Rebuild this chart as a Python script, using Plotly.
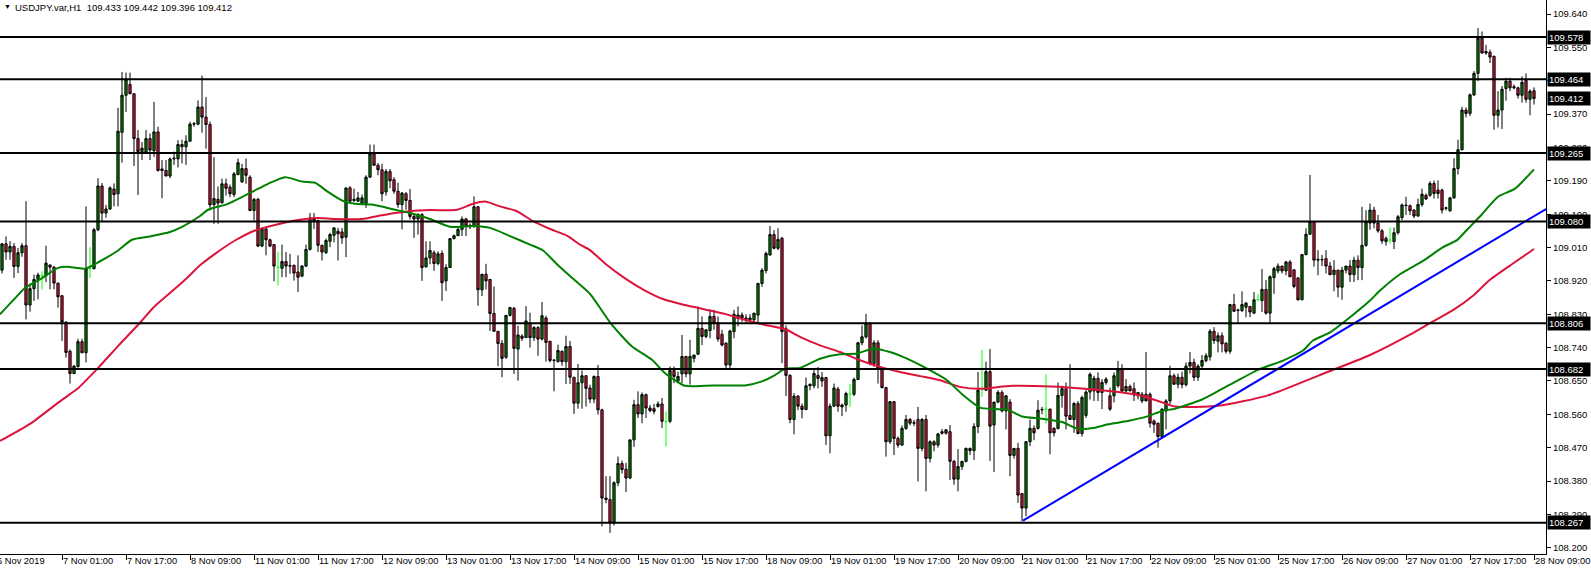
import plotly.graph_objects as go

FONT = "Liberation Sans"
FIRST_BAR = -15  # bar index of the first visible H1 bar (bar 0 = 7 Nov 01:00)

# ---- H1 bars: (open, high, low, close) ----
bars_1 = [  # bars -15 .. 34
    (108.949,109.022,108.940,109.020),(109.020,109.040,108.977,108.998),(108.998,109.027,108.977,109.013),(109.013,109.022,108.928,108.959),(108.959,109.009,108.941,108.996),
    (108.996,109.022,108.985,109.015),(109.015,109.135,108.816,108.855),(108.855,108.913,108.837,108.899),(108.899,108.937,108.866,108.924),(108.924,108.942,108.870,108.936),
    (108.934,108.946,108.897,108.934),(108.934,109.015,108.917,108.968),(108.963,108.964,108.897,108.957),(108.957,108.960,108.897,108.914),(108.914,108.915,108.848,108.877),
    (108.880,108.882,108.758,108.809),(108.809,108.810,108.713,108.727),(108.730,108.735,108.643,108.670),(108.670,108.693,108.668,108.690),(108.689,108.764,108.686,108.756),
    (108.756,108.764,108.726,108.726),(108.726,109.121,108.700,108.953),(108.953,109.011,108.928,108.953),(108.953,109.063,108.951,109.058),(109.058,109.197,109.054,109.176),
    (109.176,109.184,109.080,109.103),(109.103,109.125,109.090,109.114),(109.114,109.175,109.112,109.171),(109.168,109.183,109.121,109.153),(109.155,109.387,109.121,109.324),
    (109.321,109.484,109.239,109.421),(109.421,109.482,109.376,109.464),(109.450,109.482,109.425,109.425),(109.425,109.425,109.230,109.304),(109.304,109.327,109.152,109.269),
    (109.269,109.295,109.246,109.278),(109.268,109.327,109.264,109.304),(109.304,109.318,109.246,109.273),(109.271,109.403,109.255,109.322),(109.322,109.336,109.215,109.218),
    (109.222,109.246,109.143,109.218),(109.218,109.246,109.203,109.203),(109.203,109.253,109.197,109.249),(109.249,109.269,109.233,109.251),(109.249,109.300,109.226,109.288),
    (109.288,109.301,109.237,109.282),(109.282,109.313,109.233,109.297),(109.297,109.349,109.295,109.343),(109.343,109.349,109.336,109.344),(109.343,109.407,109.340,109.389),
]
bars_2 = [  # bars 35 .. 83
    (109.389,109.474,109.320,109.362),(109.362,109.416,109.277,109.342),(109.342,109.350,109.110,109.125),(109.126,109.254,109.074,109.142),(109.140,109.175,109.074,109.130),
    (109.131,109.196,109.128,109.182),(109.182,109.196,109.150,109.170),(109.173,109.180,109.146,109.155),(109.153,109.214,109.146,109.209),(109.207,109.250,109.205,109.239),
    (109.187,109.236,109.185,109.223),(109.223,109.250,109.182,109.205),(109.200,109.205,109.108,109.110),(109.110,109.144,109.083,109.140),(109.140,109.144,109.011,109.014),
    (109.014,109.065,109.011,109.060),(109.060,109.065,108.989,109.031),(109.031,109.034,109.011,109.014),(109.018,109.018,108.919,108.960),(108.957,108.999,108.908,108.957),
    (108.954,109.018,108.930,108.972),(108.972,108.998,108.930,108.960),(108.960,108.993,108.939,108.961),(108.962,108.964,108.921,108.941),(108.944,108.989,108.890,108.930),
    (108.933,108.963,108.930,108.960),(108.960,109.018,108.957,109.005),(109.005,109.103,109.002,109.090),(109.090,109.103,109.060,109.083),(109.083,109.085,108.998,109.016),
    (109.016,109.018,108.975,108.998),(108.996,109.034,108.993,109.029),(109.027,109.050,109.011,109.045),(109.043,109.065,109.024,109.063),(109.054,109.063,108.975,109.047),
    (109.052,109.063,109.020,109.036),(109.038,109.171,108.984,109.171),(109.171,109.176,109.130,109.135),(109.137,109.169,109.133,109.140),(109.135,109.160,109.133,109.144),
    (109.130,109.153,109.126,109.144),(109.128,109.205,109.117,109.200),(109.200,109.288,109.198,109.263),(109.263,109.288,109.232,109.232),(109.232,109.238,109.205,109.220),
    (109.220,109.236,109.135,109.155),(109.160,109.222,109.150,109.215),(109.215,109.222,109.170,109.190),(109.193,109.200,109.155,109.162),
]
bars_3 = [  # bars 84 .. 131
    (109.162,109.185,109.117,109.126),(109.126,109.160,109.059,109.157),(109.155,109.160,109.112,109.137),(109.137,109.168,109.086,109.094),(109.094,109.103,109.036,109.087),
    (109.087,109.103,109.045,109.099),(109.099,109.103,108.920,108.956),(108.958,109.027,108.956,108.982),(108.982,109.027,108.965,109.002),(108.996,109.002,108.947,108.967),
    (108.967,109.000,108.962,108.993),(108.994,109.002,108.866,108.915),(108.920,108.965,108.893,108.956),(108.956,109.036,108.956,109.034),(109.034,109.045,109.032,109.042),
    (109.042,109.063,109.041,109.059),(109.059,109.094,109.041,109.087),(109.087,109.090,109.041,109.068),(109.066,109.075,109.060,109.070),(109.068,109.148,109.063,109.120),
    (109.120,109.121,108.853,108.896),(108.896,108.938,108.879,108.938),(108.938,108.966,108.897,108.920),(108.924,108.924,108.785,108.832),(108.832,108.905,108.784,108.784),
    (108.784,108.784,108.690,108.751),(108.751,108.760,108.660,108.711),(108.714,108.827,108.709,108.827),(108.827,108.850,108.824,108.848),(108.846,108.850,108.669,108.738),
    (108.736,108.799,108.651,108.774),(108.771,108.776,108.758,108.765),(108.767,108.852,108.767,108.812),(108.805,108.834,108.740,108.767),(108.767,108.798,108.758,108.794),
    (108.794,108.798,108.718,108.763),(108.763,108.863,108.759,108.826),(108.820,108.826,108.702,108.754),(108.757,108.758,108.700,108.705),(108.705,108.709,108.622,108.706),
    (108.702,108.748,108.700,108.732),(108.730,108.732,108.691,108.702),(108.702,108.772,108.642,108.743),(108.743,108.758,108.642,108.660),(108.660,108.660,108.561,108.590),
    (108.590,108.696,108.575,108.645),(108.645,108.678,108.575,108.664),(108.664,108.666,108.581,108.630),
]
bars_4 = [  # bars 132 .. 180
    (108.631,108.640,108.590,108.601),(108.601,108.665,108.590,108.662),(108.662,108.693,108.559,108.572),(108.572,108.575,108.258,108.334),(108.334,108.393,108.320,108.330),
    (108.330,108.393,108.240,108.267),(108.267,108.380,108.260,108.375),(108.375,108.446,108.366,108.427),(108.427,108.435,108.400,108.411),(108.412,108.429,108.350,108.388),
    (108.388,108.491,108.385,108.491),(108.491,108.599,108.472,108.586),(108.586,108.622,108.550,108.561),(108.561,108.619,108.536,108.613),(108.613,108.616,108.550,108.577),
    (108.577,108.585,108.565,108.570),(108.575,108.588,108.560,108.568),(108.581,108.595,108.578,108.588),(108.588,108.604,108.523,108.541),(108.541,108.568,108.473,108.541),
    (108.541,108.689,108.536,108.678),(108.678,108.689,108.644,108.662),(108.650,108.675,108.644,108.662),(108.669,108.774,108.644,108.716),(108.716,108.718,108.660,108.669),
    (108.669,108.761,108.640,108.716),(108.711,108.720,108.700,108.720),(108.722,108.851,108.720,108.792),(108.792,108.824,108.747,108.770),(108.770,108.790,108.765,108.788),
    (108.786,108.843,108.765,108.824),(108.824,108.842,108.788,108.806),(108.807,108.824,108.756,108.763),(108.776,108.788,108.743,108.747),(108.752,108.754,108.680,108.693),
    (108.693,108.788,108.680,108.785),(108.783,108.842,108.765,108.830),(108.819,108.851,108.797,108.828),(108.828,108.835,108.810,108.820),(108.815,108.830,108.805,108.820),
    (108.820,108.830,108.810,108.815),(108.815,108.833,108.810,108.833),(108.828,108.915,108.806,108.913),(108.913,108.954,108.904,108.949),(108.948,108.999,108.940,108.994),
    (108.990,109.068,108.988,109.045),(109.045,109.057,109.005,109.008),(109.008,109.062,109.003,109.032),(109.035,109.039,108.698,108.783),
]
bars_5 = [  # bars 181 .. 229
    (108.791,108.800,108.609,108.665),(108.665,108.668,108.536,108.546),(108.546,108.617,108.506,108.609),(108.609,108.612,108.571,108.582),(108.582,108.589,108.549,108.573),
    (108.573,108.659,108.571,108.637),(108.637,108.643,108.625,108.641),(108.637,108.679,108.630,108.670),(108.665,108.688,108.630,108.657),(108.650,108.674,108.634,108.659),
    (108.659,108.661,108.477,108.502),(108.502,108.589,108.455,108.582),(108.582,108.643,108.580,108.631),(108.628,108.634,108.567,108.582),(108.585,108.589,108.555,108.580),
    (108.585,108.621,108.567,108.616),(108.614,108.641,108.580,108.614),(108.614,108.659,108.609,108.654),(108.654,108.755,108.652,108.753),(108.753,108.800,108.746,108.769),
    (108.769,108.831,108.764,108.806),(108.806,108.809,108.692,108.697),(108.697,108.760,108.688,108.753),(108.753,108.760,108.643,108.683),(108.683,108.686,108.630,108.632),
    (108.632,108.634,108.446,108.486),(108.486,108.596,108.480,108.594),(108.594,108.596,108.450,108.495),(108.495,108.500,108.470,108.477),(108.477,108.530,108.475,108.522),
    (108.522,108.558,108.518,108.546),(108.546,108.550,108.530,108.536),(108.536,108.545,108.528,108.537),(108.546,108.580,108.379,108.468),(108.468,108.550,108.460,108.546),
    (108.546,108.558,108.352,108.441),(108.441,108.490,108.430,108.486),(108.486,108.490,108.460,108.477),(108.477,108.510,108.470,108.507),(108.513,108.520,108.505,108.509),
    (108.509,108.520,108.505,108.518),(108.513,108.531,108.383,108.433),(108.433,108.437,108.370,108.385),(108.385,108.466,108.352,108.419),(108.419,108.430,108.410,108.433),
    (108.433,108.470,108.430,108.468),(108.468,108.470,108.450,108.462),(108.462,108.536,108.437,108.527),(108.527,108.674,108.509,108.625),
]
bars_6 = [  # bars 230 .. 278
    (108.628,108.734,108.607,108.628),(108.625,108.702,108.623,108.675),(108.675,108.736,108.434,108.528),(108.531,108.593,108.404,108.593),(108.593,108.625,108.590,108.619),
    (108.619,108.625,108.565,108.569),(108.569,108.610,108.519,108.610),(108.593,108.601,108.393,108.449),(108.449,108.468,108.440,108.468),(108.468,108.483,108.321,108.342),
    (108.346,108.348,108.271,108.307),(108.307,108.488,108.285,108.486),(108.486,108.546,108.474,108.522),(108.522,108.530,108.490,108.510),(108.522,108.598,108.519,108.571),
    (108.572,108.580,108.560,108.573),(108.574,108.668,108.535,108.574),(108.574,108.575,108.452,108.510),(108.522,108.525,108.500,108.510),(108.522,108.646,108.519,108.611),
    (108.611,108.637,108.578,108.629),(108.629,108.646,108.519,108.555),(108.557,108.695,108.546,108.546),(108.546,108.593,108.510,108.589),(108.589,108.596,108.506,108.508),
    (108.508,108.610,108.500,108.605),(108.557,108.625,108.550,108.620),(108.620,108.673,108.600,108.668),(108.623,108.664,108.596,108.657),(108.657,108.673,108.596,108.619),
    (108.619,108.655,108.574,108.646),(108.646,108.660,108.640,108.655),(108.610,108.632,108.569,108.574),(108.610,108.673,108.592,108.664),(108.637,108.704,108.632,108.682),
    (108.682,108.695,108.619,108.623),(108.623,108.655,108.619,108.635),(108.635,108.640,108.623,108.623),(108.629,108.646,108.596,108.612),(108.610,108.620,108.600,108.619),
    (108.596,108.620,108.590,108.614),(108.614,108.728,108.596,108.596),(108.614,108.619,108.524,108.536),(108.542,108.546,108.510,108.533),(108.536,108.537,108.470,108.500),
    (108.500,108.576,108.497,108.574),(108.569,108.601,108.519,108.596),(108.596,108.691,108.587,108.664),(108.664,108.670,108.640,108.641),
]
bars_7 = [  # bars 279 .. 326
    (108.641,108.670,108.630,108.660),(108.660,108.675,108.630,108.640),(108.640,108.700,108.635,108.690),(108.690,108.728,108.670,108.700),(108.700,108.710,108.650,108.660),
    (108.660,108.695,108.650,108.690),(108.690,108.720,108.680,108.705),(108.705,108.725,108.700,108.718),(108.715,108.790,108.705,108.784),(108.784,108.795,108.750,108.759),
    (108.757,108.781,108.727,108.772),(108.772,108.781,108.727,108.750),(108.752,108.754,108.724,108.730),(108.730,108.858,108.723,108.856),(108.856,108.885,108.836,108.838),
    (108.840,108.845,108.806,108.841),(108.840,108.892,108.836,108.856),(108.849,108.863,108.822,108.860),(108.851,108.851,108.822,108.836),(108.833,108.890,108.831,108.869),
    (108.870,108.885,108.865,108.870),(108.867,108.952,108.836,108.897),(108.897,108.922,108.829,108.833),(108.833,108.935,108.806,108.931),(108.929,108.958,108.885,108.953),
    (108.947,108.967,108.940,108.960),(108.960,108.960,108.940,108.947),(108.947,108.974,108.935,108.971),(108.971,108.976,108.931,108.931),(108.950,108.950,108.900,108.905),
    (108.928,108.930,108.867,108.869),(108.869,108.992,108.868,108.991),(108.991,109.062,108.989,109.046),(109.046,109.206,109.044,109.080),(109.080,109.080,108.958,108.976),
    (108.976,109.003,108.935,108.978),(108.978,108.990,108.960,108.977),(108.980,109.003,108.940,108.960),(108.960,108.971,108.935,108.937),(108.937,108.976,108.892,108.949),
    (108.949,108.949,108.876,108.903),(108.903,108.958,108.869,108.949),(108.949,108.960,108.940,108.960),(108.960,108.976,108.917,108.937),(108.937,108.985,108.917,108.976),
    (108.976,108.989,108.922,108.956),(108.956,109.120,108.922,109.016),(109.016,109.111,109.012,109.080),
]
bars_8 = [  # bars 327 .. 368 (last = 28 Nov 09:00)
    (109.076,109.129,109.058,109.111),(109.111,109.120,109.062,109.076),(109.076,109.098,109.050,109.055),(109.055,109.060,109.020,109.028),(109.035,109.040,109.015,109.026),
    (109.030,109.064,109.021,109.030),(109.026,109.064,109.006,109.050),(109.050,109.098,109.045,109.093),(109.091,109.129,109.084,109.125),(109.123,109.147,109.098,109.124),
    (109.123,109.126,109.098,109.109),(109.111,109.114,109.089,109.095),(109.095,109.142,109.093,109.126),(109.126,109.169,109.120,109.154),(109.151,109.156,109.138,109.141),
    (109.151,109.189,109.147,109.183),(109.183,109.191,109.142,109.156),(109.165,109.191,109.142,109.156),(109.165,109.169,109.102,109.111),(109.116,109.120,109.110,109.117),
    (109.109,109.147,109.107,109.144),(109.144,109.251,109.142,109.223),(109.223,109.301,109.207,109.274),(109.274,109.390,109.272,109.381),(109.381,109.388,109.361,109.372),
    (109.372,109.426,109.365,109.422),(109.422,109.486,109.419,109.480),(109.480,109.602,109.459,109.575),(109.575,109.593,109.533,109.535),(109.539,109.557,109.530,109.535),
    (109.537,109.544,109.508,109.524),(109.526,109.528,109.328,109.367),(109.367,109.432,109.334,109.381),(109.381,109.446,109.330,109.437),(109.439,109.468,109.406,109.459),
    (109.459,109.468,109.432,109.441),(109.444,109.450,109.437,109.441),(109.441,109.444,109.412,109.421),(109.421,109.472,109.401,109.456),(109.461,109.480,109.401,109.410),
    (109.410,109.437,109.367,109.432),(109.433,109.442,109.396,109.412),
]
# bars where open == close, drawn by the terminal in lime
lime_doji = [-5, 7, 54, 151, 197, 230, 246, 299, 332]

# ---- moving averages (bar index, value) ----
ma_fast_pts = [
    (-15.5,108.830),(-11.25,108.879),(-9.25,108.901),(-5.5,108.924),(-1,108.955),(1.25,108.958),(5.75,108.953),(9.5,108.973),
    (13.75,109.000),(17.5,109.031),(22,109.040),(27,109.052),(30.25,109.067),(34.5,109.095),(36.5,109.112),(41.5,109.128),
    (47.5,109.160),(51.5,109.182),(55.75,109.200),(60,109.188),(63.25,109.185),(66.5,109.160),(70,109.137),(73.25,109.128),
    (77.5,109.126),(83.25,109.112),(87,109.103),(92,109.087),(97,109.066),(102.75,109.068),(107,109.063),(112,109.041),
    (117,109.018),(120.25,109.002),(123.75,108.965),(127,108.933),(132,108.885),(134,108.855),(137.5,108.801),(142.5,108.743),
    (147.5,108.707),(150.75,108.671),(155.75,108.637),(160.75,108.637),(165.75,108.638),(170.75,108.638),(175,108.649),(178.25,108.666),
    (180.75,108.683),(184.5,108.685),(189.5,108.710),(194.5,108.722),(198.75,108.724),(202.75,108.737),(207,108.728),(211.25,108.710),
    (216.25,108.683),(221.25,108.652),(225.25,108.612),(229.5,108.578),(233.25,108.574),(236.5,108.572),(240,108.554),(245,108.548),
    (250,108.539),(254,108.521),(258.25,108.524),(261.5,108.533),(266.5,108.542),(271.5,108.555),(275,108.569),(278.25,108.575),
    (285,108.600),(292,108.640),(299,108.680),(305.25,108.705),(310.25,108.732),(312.75,108.759),(317,108.781),(322,108.822),
    (327,108.867),(329.5,108.894),(334.5,108.938),(340.25,108.974),(345.25,109.011),(348.75,109.030),(351.25,109.058),(355,109.100),
    (359,109.147),(363.25,109.169),(368,109.221),
]
ma_slow_pts = [
    (-15.5,108.488),(-8,108.534),(-0.25,108.597),(3.75,108.628),(8.75,108.682),(14,108.744),(19.5,108.807),(22.75,108.847),
    (27.5,108.892),(31.25,108.928),(34.5,108.962),(38.25,108.993),(43.25,109.029),(48.25,109.056),(53.25,109.071),(58.25,109.083),
    (64,109.090),(68.25,109.087),(75,109.087),(80,109.097),(83.25,109.103),(87,109.108),(92,109.111),(98.75,109.112),
    (102.75,109.128),(105.75,109.134),(109.5,109.121),(113.75,109.108),(117.75,109.081),(122,109.060),(126.25,109.042),(129.5,109.018),
    (132,109.003),(135.75,108.967),(140.75,108.927),(145.75,108.894),(150.75,108.869),(155.75,108.855),(160.75,108.843),(165.75,108.831),
    (170.75,108.815),(175.75,108.801),(180.75,108.790),(184.5,108.769),(189.5,108.746),(194.5,108.728),(199.5,108.706),(204.5,108.688),
    (209.5,108.674),(214.5,108.663),(219.5,108.652),(224.5,108.634),(229.5,108.629),(237.5,108.637),(247.5,108.635),(255.75,108.629),
    (260,108.625),(265,108.619),(270,108.610),(274,108.596),(278.25,108.581),(289,108.583),(301.5,108.611),(314.25,108.665),
    (327,108.720),(337,108.775),(342,108.806),(347.75,108.841),(352.75,108.880),(357,108.923),(362.75,108.967),(368,109.006),
]
trend_pts = [(240.25, 108.273), (371, 109.114)]

levels = [109.578, 109.464, 109.265, 109.080, 108.806, 108.682, 108.267]
symbol = "USDJPY.var,H1"

price_ticks = [108.200, 108.290, 108.380, 108.470, 108.560, 108.650, 108.740, 108.830, 108.920,
               109.010, 109.100, 109.190, 109.280, 109.370, 109.460, 109.550, 109.640]
date_tick_pos = [-16, 0, 16, 32, 48, 64, 80, 96, 112, 128, 144, 160, 176, 192, 208, 224, 240,
                 256, 272, 288, 304, 320, 336, 352, 368]
date_tick_text = ["6 Nov 2019", "7 Nov 01:00", "7 Nov 17:00", "8 Nov 09:00", "11 Nov 01:00", "11 Nov 17:00",
                  "12 Nov 09:00", "13 Nov 01:00", "13 Nov 17:00", "14 Nov 09:00", "15 Nov 01:00", "15 Nov 17:00",
                  "18 Nov 09:00", "19 Nov 01:00", "19 Nov 17:00", "20 Nov 09:00", "21 Nov 01:00", "21 Nov 17:00",
                  "22 Nov 09:00", "25 Nov 01:00", "25 Nov 17:00", "26 Nov 09:00", "27 Nov 01:00", "27 Nov 17:00",
                  "28 Nov 09:00"]

X_MIN, X_MAX = -15.5, 371
Y_MIN, Y_MAX = 108.183, 109.678
DATE_FONT = dict(family=FONT, size=9.3, color="#000000")

# ---- assemble ----
bars = bars_1 + bars_2 + bars_3 + bars_4 + bars_5 + bars_6 + bars_7 + bars_8
idx = list(range(FIRST_BAR, FIRST_BAR + len(bars)))
O = [b[0] for b in bars]
H = [max(b) for b in bars]
L = [min(b) for b in bars]
C = [b[3] for b in bars]

lime_set = set(lime_doji)
main = [i for i, k in enumerate(idx) if k not in lime_set]

fig = go.Figure()
fig.add_trace(go.Candlestick(
    x=[idx[i] for i in main], open=[O[i] for i in main], high=[H[i] for i in main],
    low=[L[i] for i in main], close=[C[i] for i in main],
    increasing=dict(line=dict(color="#000000", width=1), fillcolor="#008000"),
    decreasing=dict(line=dict(color="#000000", width=1), fillcolor="#dc143c"),
    whiskerwidth=0, hoverinfo="skip", showlegend=False))

lx, ly = [], []
for k in lime_doji:
    i = k - FIRST_BAR
    lx += [k, k, None, k - 0.35, k + 0.35, None]
    ly += [L[i], H[i], None, O[i], O[i], None]
fig.add_trace(go.Scatter(x=lx, y=ly, mode="lines", line=dict(color="#00ff00", width=1),
                         hoverinfo="skip", showlegend=False))

fig.add_trace(go.Scatter(x=[p[0] for p in ma_slow_pts], y=[p[1] for p in ma_slow_pts], mode="lines",
                         line=dict(color="#dc143c", width=2, shape="spline", smoothing=0.6),
                         hoverinfo="skip", showlegend=False))
fig.add_trace(go.Scatter(x=[p[0] for p in ma_fast_pts], y=[p[1] for p in ma_fast_pts], mode="lines",
                         line=dict(color="#008000", width=2, shape="spline", smoothing=0.6),
                         hoverinfo="skip", showlegend=False))
fig.add_trace(go.Scatter(x=[p[0] for p in trend_pts], y=[p[1] for p in trend_pts], mode="lines",
                         line=dict(color="#0000ff", width=2), hoverinfo="skip", showlegend=False))

shapes = [dict(type="line", xref="paper", x0=0, x1=1, yref="y", y0=v, y1=v,
               line=dict(color="#000000", width=2), layer="above") for v in levels]

ann = []
for v in levels + [C[-1]]:
    ann.append(dict(x=1, xref="paper", xanchor="left", xshift=1, y=v, yref="y", yanchor="middle",
                    text=f"{v:.3f}", showarrow=False, bgcolor="#000000", borderpad=1, width=40, align="left",
                    font=dict(family=FONT, size=9.5, color="#ffffff")))
for pos, txt in zip(date_tick_pos, date_tick_text):
    if pos < X_MIN:
        ann.append(dict(x=0, xref="paper", xanchor="left", xshift=-4, y=0, yref="paper", yanchor="top",
                        yshift=-1, text=txt, showarrow=False, borderpad=0, font=DATE_FONT))
    else:
        ann.append(dict(x=pos, xref="x", xanchor="left", xshift=0, y=0, yref="paper", yanchor="top",
                        yshift=-1, text=txt, showarrow=False, borderpad=0, font=DATE_FONT))
ann.append(dict(x=0, xref="paper", xanchor="left", xshift=2, y=1, yref="paper", yanchor="top", yshift=-1,
                text="▼", showarrow=False, font=dict(family=FONT, size=7, color="#000000")))
ann.append(dict(x=0, xref="paper", xanchor="left", xshift=13, y=1, yref="paper", yanchor="top", yshift=0,
                text=f"{symbol}  {O[-1]:.3f} {H[-1]:.3f} {L[-1]:.3f} {C[-1]:.3f}", showarrow=False,
                font=dict(family=FONT, size=9.5, color="#000000")))

fig.update_layout(
    width=1591, height=570, margin=dict(l=0, r=45, t=0, b=16),
    paper_bgcolor="#ffffff", plot_bgcolor="#ffffff", showlegend=False,
    font=dict(family=FONT, size=9.5, color="#000000"),
    boxgap=0.25, boxgroupgap=0.25,
    shapes=shapes, annotations=ann,
    xaxis=dict(range=[X_MIN, X_MAX], tickvals=date_tick_pos, showticklabels=False, ticks="outside",
               ticklen=5, tickcolor="#000000", showline=True, linecolor="#000000", linewidth=1,
               showgrid=False, zeroline=False, rangeslider=dict(visible=False), fixedrange=True),
    yaxis=dict(side="right", range=[Y_MIN, Y_MAX], tickvals=price_ticks,
               ticktext=[f"{v:.3f}" for v in price_ticks], ticks="outside", ticklen=4,
               tickcolor="#000000", showline=True, linecolor="#000000", linewidth=1,
               showgrid=False, zeroline=False, tickfont=dict(family=FONT, size=9.5, color="#000000"),
               fixedrange=True),
)

fig.write_html("out.html", config={"displayModeBar": False})

# remove the browser's default page margin so the figure sits at the window's top-left corner
with open("out.html", "r", encoding="utf-8") as f:
    page = f.read()
page = page.replace("<head>", "<head><style>html,body{margin:0;padding:0;overflow:hidden;}</style>", 1)
with open("out.html", "w", encoding="utf-8") as f:
    f.write(page)
